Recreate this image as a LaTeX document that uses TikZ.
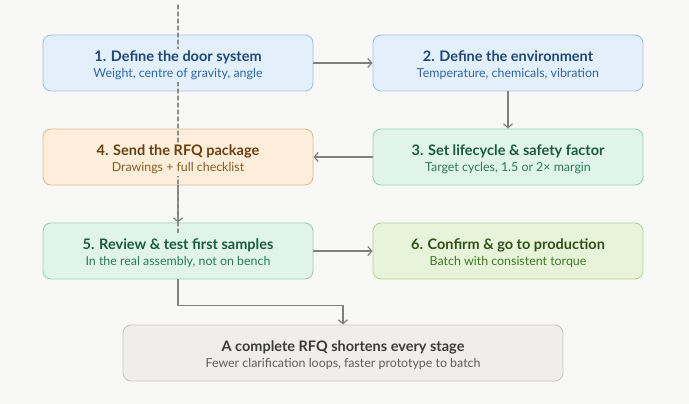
\documentclass[tikz,border=0pt]{standalone}
\usepackage{fontspec}
\setmainfont{Lato}
\usetikzlibrary{arrows.meta}
\definecolor{paper}{HTML}{F8F8F6}
\definecolor{wire}{HTML}{7F7F7D}
\definecolor{blueF}{HTML}{E4EFFC}\definecolor{blueD}{HTML}{A3C1E3}
\definecolor{blueT}{HTML}{1D4774}\definecolor{blueS}{HTML}{2C67A6}
\definecolor{sandF}{HTML}{FCEEDA}\definecolor{sandD}{HTML}{DDBD92}
\definecolor{sandT}{HTML}{693F10}\definecolor{sandS}{HTML}{875A20}
\definecolor{mintF}{HTML}{E0F4EC}\definecolor{mintD}{HTML}{98D0B7}
\definecolor{mintT}{HTML}{1A5A3E}\definecolor{mintS}{HTML}{2B7A55}
\definecolor{leafF}{HTML}{E8F4DA}\definecolor{leafD}{HTML}{B7D396}
\definecolor{leafT}{HTML}{2F5119}\definecolor{leafS}{HTML}{3E7826}
\definecolor{stoneF}{HTML}{EFEEEA}\definecolor{stoneD}{HTML}{C8C7C1}
\definecolor{stoneT}{HTML}{3B3B39}\definecolor{stoneS}{HTML}{5E5D59}
\newcommand{\boxtext}[4]{{\color{#1}\fontsize{14.5}{17}\selectfont\bfseries #3}\\[4pt]{\color{#2}\fontsize{12.4}{14}\selectfont #4}}
\begin{document}
\begin{tikzpicture}[x=1pt,y=1pt,line cap=round,line join=round,
  stage/.style={draw=#1D,fill=#1F,rounded corners=8pt,line width=.9pt,
    minimum width=270pt,minimum height=56pt,inner sep=0pt},
  words/.style={fill=#1F,align=center,inner sep=2pt},
  arr/.style={draw=wire,line width=1.4pt,-{Straight Barb[length=4pt,width=9pt,line width=1.2pt]}},
  guide/.style={draw=wire!90,line width=1.3pt,dash pattern=on 4pt off 3pt}]
  \fill[paper] (0,0) rectangle (689,-404);
  \useasboundingbox (0,0) rectangle (689,-404);
  % boxes
  \node[stage=blue] (b1) at (178,-63) {};
  \node[stage=blue] (b2) at (508,-63) {};
  \node[stage=mint] (b3) at (508,-157) {};
  \node[stage=sand] (b4) at (178,-157) {};
  \node[stage=mint] (b5) at (178,-251) {};
  \node[stage=leaf] (b6) at (508,-251) {};
  \node[stage=stone,minimum width=440pt] (b7) at (343,-353) {};
  % links
  \draw[arr] (b1) -- (b2);
  \draw[arr] (b2) -- (b3);
  \draw[arr] (b3) -- (b4);
  \draw[arr] (b4) -- (b5);
  \draw[arr] (b5) -- (b6);
  \draw[arr] (b5.south) -- ++(0,-26) -| (b7.north);
  % guide line
  \coordinate (g0) at (178,-5);
  \coordinate (g1) at ([yshift=-10pt]b5.north);
  \draw[guide] (g0) -- (g1);
  % labels
  \node[words=blue] (t1) at ([yshift=-2.5pt]b1) {\boxtext{blueT}{blueS}{1. Define the door system}{Weight, centre of gravity, angle}};
  \node[words=blue] (t2) at ([yshift=-2.5pt]b2) {\boxtext{blueT}{blueS}{2. Define the environment}{Temperature, chemicals, vibration}};
  \node[words=mint] (t3) at ([yshift=-2.5pt]b3) {\boxtext{mintT}{mintS}{3. Set lifecycle \& safety factor}{Target cycles, 1.5 or 2× margin}};
  \node[words=sand] (t4) at ([yshift=-2.5pt]b4) {\boxtext{sandT}{sandS}{4. Send the RFQ package}{Drawings + full checklist}};
  \node[words=mint] (t5) at ([yshift=-2.5pt]b5) {\boxtext{mintT}{mintS}{5. Review \& test first samples}{In the real assembly, not on bench}};
  \node[words=leaf] (t6) at ([yshift=-2.5pt]b6) {\boxtext{leafT}{leafS}{6. Confirm \& go to production}{Batch with consistent torque}};
  \node[words=stone] (t7) at ([yshift=-2.5pt]b7) {\boxtext{stoneT}{stoneS}{A complete RFQ shortens every stage}{Fewer clarification loops, faster prototype to batch}};
\end{tikzpicture}
\end{document}
